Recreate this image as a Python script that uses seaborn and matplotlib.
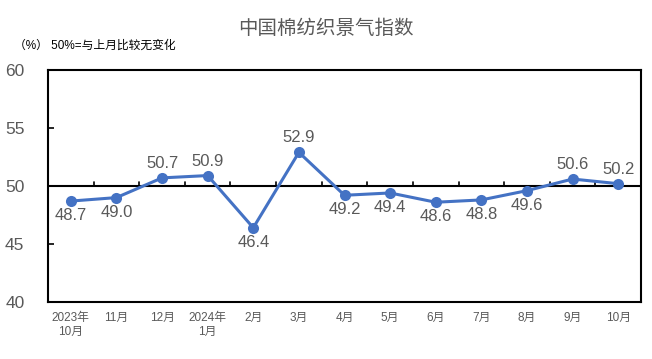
import matplotlib
matplotlib.use("Agg")
import matplotlib.pyplot as plt
import seaborn as sns
import pandas as pd

months = ["2023年\n10月", "11月", "12月", "2024年\n1月", "2月", "3月", "4月",
          "5月", "6月", "7月", "8月", "9月", "10月"]
values = [48.7, 49.0, 50.7, 50.9, 46.4, 52.9, 49.2, 49.4, 48.6, 48.8, 49.6, 50.6, 50.2]
label_above = [False, False, True, True, False, True, False, False, False, False, False, True, True]
yticks = [40, 45, 50, 55, 60]

sns.set_theme(style="white")
plt.rcParams['font.family'] = ['Liberation Sans', 'Noto Sans CJK SC', 'DejaVu Sans']

df = pd.DataFrame({"idx": range(len(months)), "value": values})

fig = plt.figure(figsize=(6.52, 3.59), dpi=100)
ax = fig.add_axes([48/652, 57/359, 593/652, 232/359])

blue = "#4472C4"
grey = "#595959"
sns.lineplot(data=df, x="idx", y="value", ax=ax, color=blue, linewidth=2.2,
             marker="o", markersize=8, markeredgewidth=0, markeredgecolor=blue)

ax.set_xlim(-0.5, len(months) - 0.5)
ax.set_ylim(40, 60)
ax.set_yticks(yticks)
ax.set_yticklabels([str(t) for t in yticks], fontsize=12.5, color=grey)
ax.set_xticks(range(len(months)))
ax.set_xticklabels(months, fontsize=8.5, color=grey, linespacing=1.3)
ax.tick_params(axis="x", length=0, pad=7)
ax.tick_params(axis="y", direction="in", length=4, width=1.2, color="black", pad=17, left=True)
ax.set_xlabel("")
ax.set_ylabel("")

for s in ax.spines.values():
    s.set_visible(True)
    s.set_color("black")
    s.set_linewidth(1.5)

# 50 reference axis with category-boundary ticks
ax.axhline(50, color="black", linewidth=1.5, zorder=1)
for i in range(len(months) - 1):
    ax.plot([i + 0.5, i + 0.5], [50, 50.35], color="black", linewidth=1.2, zorder=1)

for i, (v, up) in enumerate(zip(values, label_above)):
    ax.annotate(f"{v:.1f}", (i, v), xytext=(0, 5 if up else -5),
                textcoords="offset points", ha="center",
                va="bottom" if up else "top", fontsize=12, color=grey)

fig.text(0.5, 1 - 29/359, "中国棉纺织景气指数", ha="center", va="center",
         fontsize=14, color=grey)
fig.text(14/652, 1 - 46/359, "（%） 50%=与上月比较无变化", ha="left", va="center",
         fontsize=8.5, color="black")

fig.savefig("out.png", dpi=100)
